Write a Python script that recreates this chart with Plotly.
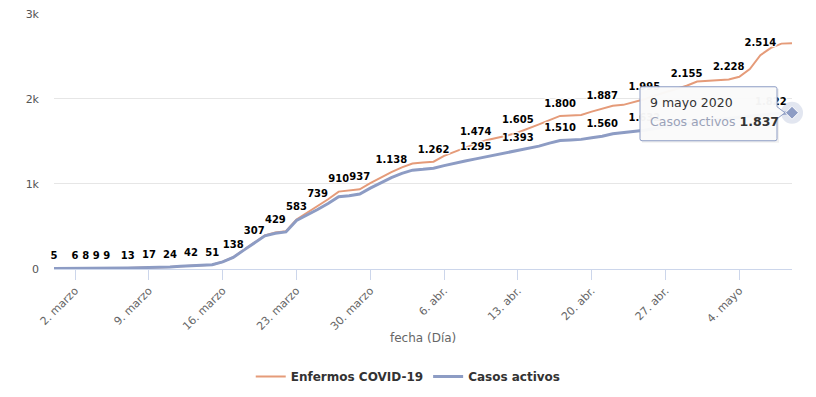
import pandas as pd
import plotly.graph_objects as go

# ---------------- data ----------------
start_date = "2020-02-29"
end_date = "2020-05-09"
dates = pd.date_range(start_date, end_date, freq="D")

enfermos = [
    5, 5, 6, 8, 9, 9, 11, 13, 15, 17,
    20, 24, 33, 42, 46, 51, 85, 138, 225, 307,
    395, 429, 445, 583, 660, 739, 820, 910, 920, 937,
    1010, 1075, 1138, 1195, 1240, 1252, 1262, 1330, 1380, 1430,
    1474, 1515, 1540, 1570, 1605, 1650, 1700, 1750, 1800, 1805,
    1812, 1850, 1887, 1920, 1930, 1965, 1995, 2040, 2080, 2120,
    2155, 2205, 2212, 2220, 2228, 2260, 2350, 2514, 2600, 2650,
    2655,
]
activos = [
    5, 5, 6, 8, 9, 9, 11, 13, 15, 17,
    20, 24, 33, 41, 45, 50, 84, 136, 222, 303,
    390, 420, 436, 570, 632, 700, 770, 850, 862, 882,
    950, 1015, 1075, 1125, 1162, 1172, 1185, 1215, 1245, 1270,
    1295, 1320, 1345, 1368, 1393, 1420, 1445, 1480, 1510, 1516,
    1524, 1542, 1560, 1590, 1602, 1618, 1632, 1652, 1672, 1692,
    1712, 1730, 1745, 1757, 1768, 1782, 1796, 1810, 1822, 1830,
    1837,
]

# dates whose data labels are visible (others hidden by overlap in the original)
labels_enfermos = [
    "2020-02-29", "2020-03-02", "2020-03-03", "2020-03-04", "2020-03-05",
    "2020-03-07", "2020-03-09", "2020-03-11", "2020-03-13", "2020-03-15",
    "2020-03-17", "2020-03-19", "2020-03-21", "2020-03-23", "2020-03-25",
    "2020-03-27", "2020-03-29", "2020-04-01", "2020-04-05", "2020-04-09",
    "2020-04-13", "2020-04-17", "2020-04-21", "2020-04-25", "2020-04-29",
    "2020-05-03", "2020-05-06",
]
labels_activos = [
    "2020-04-09", "2020-04-13", "2020-04-17", "2020-04-21", "2020-04-25",
    "2020-05-07",
]

tick_dates = ["2020-03-02", "2020-03-09", "2020-03-16", "2020-03-23", "2020-03-30",
              "2020-04-06", "2020-04-13", "2020-04-20", "2020-04-27", "2020-05-04"]
tick_text = ["2. marzo", "9. marzo", "16. marzo", "23. marzo", "30. marzo",
             "6. abr.", "13. abr.", "20. abr.", "27. abr.", "4. mayo"]
y_ticks = [0, 1000, 2000, 3000]
y_tick_text = ["0", "1k", "2k", "3k"]
meses = ["enero", "febrero", "marzo", "abril", "mayo", "junio", "julio",
         "agosto", "septiembre", "octubre", "noviembre", "diciembre"]

series_names = ["Enfermos COVID-19", "Casos activos"]

# ---------------- style ----------------
C_ORANGE = "#E59B79"
C_BLUE = "#8D9CC4"
LABEL_FONT = "DejaVu Sans"
AXIS_FONT = "DejaVu Sans"


def fmt(v):
    return f"{int(v):,}".replace(",", ".")


def make_text(values, shown):
    shown_set = set(pd.to_datetime(shown))
    return [fmt(v) if d in shown_set else "" for d, v in zip(dates, values)]


outline = ("1px 0 1px #fff, -1px 0 1px #fff, 0 1px 1px #fff, 0 -1px 1px #fff,"
           " 1px 1px 1px #fff, -1px -1px 1px #fff, 1px -1px 1px #fff, -1px 1px 1px #fff")

fig = go.Figure()
# lines
fig.add_trace(go.Scatter(
    x=dates, y=enfermos, name=series_names[0], mode="lines",
    line=dict(color=C_ORANGE, width=2), cliponaxis=False,
))
fig.add_trace(go.Scatter(
    x=dates, y=activos, name=series_names[1], mode="lines",
    line=dict(color=C_BLUE, width=3), cliponaxis=False,
))
# data labels (drawn on top of both lines)
for vals, shown in ((enfermos, labels_enfermos), (activos, labels_activos)):
    fig.add_trace(go.Scatter(
        x=dates, y=vals, mode="markers+text", showlegend=False, hoverinfo="skip",
        marker=dict(size=9, opacity=0),
        text=make_text(vals, shown), textposition="top center",
        textfont=dict(family=LABEL_FONT, size=10, color="#000", weight="bold", shadow=outline),
        cliponaxis=False,
    ))

# hovered point (last "Casos activos" point) with halo
last_x = dates[-1]
last_y = activos[-1]
fig.add_trace(go.Scatter(
    x=[last_x], y=[last_y], mode="markers", showlegend=False, hoverinfo="skip",
    marker=dict(size=22, color="rgba(141,156,196,0.25)", line=dict(width=0)),
    cliponaxis=False,
))
fig.add_trace(go.Scatter(
    x=[last_x], y=[last_y], mode="markers", showlegend=False, hoverinfo="skip",
    marker=dict(size=10, symbol="diamond", color=C_BLUE, line=dict(width=1, color="#fff")),
    cliponaxis=False,
))

# tooltip (drawn relative to the hovered point, in pixels)
tip_path = ("M -150 26 L -17 26 Q -15 26 -15 24 L -15 6 L -7 0 L -15 -6 L -15 -26 "
            "Q -15 -28 -17 -28 L -150 -28 Q -152 -28 -152 -26 L -152 24 Q -152 26 -150 26 Z")
shadow_path = "M -150 24 L -13 24 L -13 -30 L -150 -30 Z"
fig.add_shape(type="path", xref="x", yref="y", xsizemode="pixel", ysizemode="pixel",
              xanchor=last_x, yanchor=last_y, path=shadow_path,
              fillcolor="rgba(0,0,0,0.06)", line=dict(width=0), layer="above")
fig.add_shape(type="path", xref="x", yref="y", xsizemode="pixel", ysizemode="pixel",
              xanchor=last_x, yanchor=last_y, path=tip_path,
              fillcolor="rgba(250,250,250,0.97)", line=dict(width=1, color=C_BLUE),
              layer="above")
tip_date = f"{last_x.day} {meses[last_x.month - 1]} {last_x.year}"
fig.add_annotation(x=last_x, y=last_y, xref="x", yref="y", showarrow=False,
                   xanchor="left", yanchor="middle", xshift=-144, yshift=10,
                   text=tip_date, font=dict(family=AXIS_FONT, size=12.5, color="#333"))
fig.add_annotation(x=last_x, y=last_y, xref="x", yref="y", showarrow=False,
                   xanchor="left", yanchor="middle", xshift=-144, yshift=-9,
                   text=f"<span style='color:#9aa2b8'>{series_names[1]}</span> <b>{fmt(last_y)}</b>",
                   font=dict(family=AXIS_FONT, size=12.5, color="#333"))

# x-axis title
fig.add_annotation(x=0.5, y=-0.27, xref="paper", yref="paper", showarrow=False,
                   text="fecha (Día)", xanchor="center", yanchor="middle",
                   font=dict(family=AXIS_FONT, size=12, color="#666"))

# the page body adds an 8px margin, so the figure is 800x381 placed at (8, 8)
fig.update_layout(
    width=800, height=381,
    margin=dict(l=46, r=16, t=5, b=120, pad=0, autoexpand=False),
    paper_bgcolor="#fff", plot_bgcolor="#fff",
    font=dict(family=AXIS_FONT, color="#666"),
    hovermode=False,
    legend=dict(orientation="h", x=0.48, y=-0.42, xanchor="center", yanchor="middle",
                font=dict(family=AXIS_FONT, size=12, color="#333", weight="bold"),
                itemwidth=30, tracegroupgap=0, bgcolor="rgba(0,0,0,0)"),
    xaxis=dict(
        type="date", range=[dates[0], dates[-1]],
        tickmode="array", tickvals=tick_dates, ticktext=tick_text,
        tickangle=-45, tickfont=dict(family=AXIS_FONT, size=11, color="#666"),
        ticks="outside", ticklen=10, tickcolor="#ccd6eb", tickwidth=1,
        showline=True, linecolor="#ccd6eb", linewidth=1,
        showgrid=False, zeroline=False, fixedrange=True, automargin=False,
        ticklabeloverflow="allow",
    ),
    yaxis=dict(
        range=[0, 3010], tickmode="array", tickvals=y_ticks, ticktext=y_tick_text,
        tickfont=dict(family=AXIS_FONT, size=11, color="#555"),
        showgrid=True, gridcolor="#e6e6e6", gridwidth=1,
        zeroline=False, showline=False, ticks="", ticklabelstandoff=14,
        fixedrange=True, automargin=False, ticklabeloverflow="allow",
    ),
)

fig.write_html("out.html")
